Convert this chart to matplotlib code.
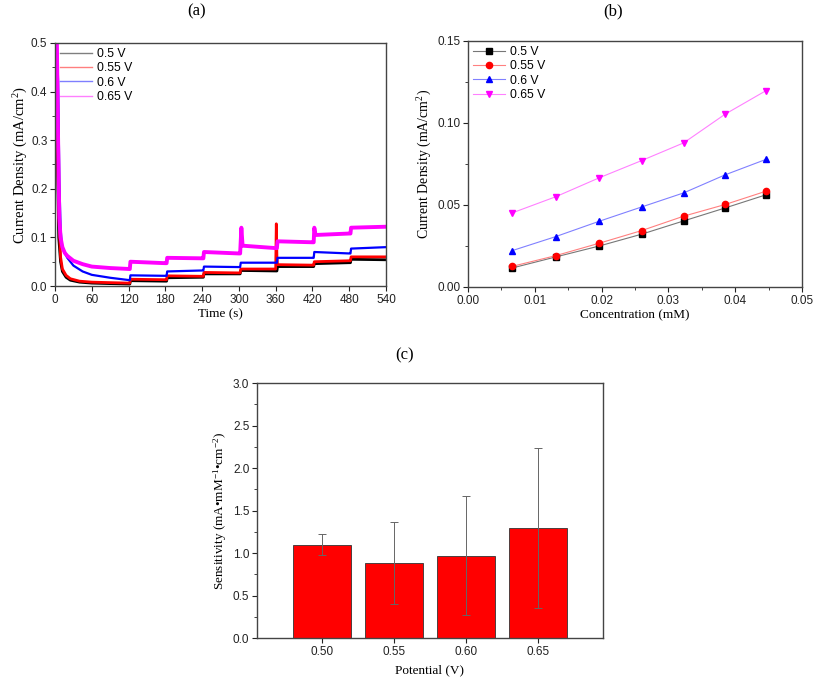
import matplotlib
matplotlib.use('Agg')
from matplotlib import pyplot as plt
from matplotlib.ticker import MultipleLocator, FormatStrFormatter

# ---- panel (a): chronoamperometry, breakpoints
t_05 = [0, 2, 4, 6, 9, 12, 18, 25, 40, 60, 90, 122,
        123, 180, 182, 183, 240, 242, 243, 300, 302, 303, 360, 362, 363, 420, 422, 423, 480, 482, 483, 540]
j_05 = [0.5, 0.5, 0.25, 0.1, 0.05, 0.03, 0.018, 0.012, 0.008, 0.006, 0.005, 0.004,
        0.011, 0.010, 0.010, 0.017, 0.018, 0.018, 0.025, 0.025, 0.025, 0.032, 0.031, 0.031, 0.040, 0.040, 0.040, 0.046, 0.048, 0.048, 0.055, 0.054]

t_055 = [0, 2, 4, 6, 9, 12, 18, 25, 40, 60, 90, 122,
         123, 180, 182, 183, 240, 242, 243, 300, 302, 303, 360, 361, 362, 363, 420, 422, 423, 480, 482, 483, 540]
j_055 = [0.5, 0.5, 0.3, 0.15, 0.06, 0.035, 0.022, 0.015, 0.010, 0.008, 0.007, 0.006,
         0.014, 0.013, 0.013, 0.021, 0.020, 0.020, 0.028, 0.027, 0.027, 0.035, 0.035, 0.128, 0.06, 0.044, 0.043, 0.043, 0.050, 0.052, 0.052, 0.060, 0.060]

t_06 = [0, 3, 5, 7, 9, 11, 15, 20, 30, 45, 60, 90, 122,
        123, 180, 182, 183, 240, 242, 243, 300, 302, 303, 360, 362, 363, 420, 422, 423, 480, 482, 483, 540]
j_06 = [0.5, 0.5, 0.42, 0.22, 0.12, 0.085, 0.07, 0.058, 0.042, 0.030, 0.023, 0.017, 0.012,
        0.022, 0.021, 0.021, 0.030, 0.032, 0.032, 0.040, 0.039, 0.039, 0.048, 0.048, 0.048, 0.058, 0.058, 0.058, 0.070, 0.067, 0.067, 0.077, 0.080]

t_065 = [0, 3, 5, 7, 9, 12, 16, 20, 30, 45, 60, 90, 122,
         123, 180, 182, 183, 240, 242, 243, 300, 302, 304, 306, 360, 362, 363, 420, 422, 423, 425, 480, 482, 483, 540]
j_065 = [0.5, 0.5, 0.3, 0.14, 0.1, 0.08, 0.068, 0.062, 0.052, 0.045, 0.040, 0.037, 0.035,
         0.050, 0.047, 0.047, 0.058, 0.057, 0.057, 0.070, 0.067, 0.067, 0.12, 0.083, 0.078, 0.078, 0.092, 0.090, 0.090, 0.12, 0.105, 0.108, 0.108, 0.120, 0.122]

# ---- panel (b): calibration
conc = [0.00664, 0.01312, 0.01966, 0.0260, 0.0323, 0.0385, 0.0446]
cd_05 = [0.0116, 0.0183, 0.0250, 0.0322, 0.0403, 0.0482, 0.0562]
cd_055 = [0.0126, 0.0191, 0.0267, 0.0344, 0.0432, 0.0503, 0.0584]
cd_06 = [0.0222, 0.0307, 0.0401, 0.0488, 0.0574, 0.0684, 0.0778]
cd_065 = [0.0452, 0.0550, 0.0666, 0.0771, 0.0879, 0.1054, 0.1197]

# ---- panel (c): sensitivity
potential = [0.50, 0.55, 0.60, 0.65]
sens = [1.10, 0.88, 0.965, 1.29]
sens_err = [0.12, 0.48, 0.70, 0.94]

labels = ['0.5 V', '0.55 V', '0.6 V', '0.65 V']

serif = 'Liberation Serif'
sans = 'Liberation Sans'
plt.rcParams['font.family'] = sans
plt.rcParams['mathtext.fontset'] = 'custom'
plt.rcParams['mathtext.rm'] = serif
plt.rcParams['mathtext.it'] = serif + ':italic'
plt.rcParams['axes.edgecolor'] = '#444444'
plt.rcParams['axes.linewidth'] = 1.0

TICK_SIZE = 8.5
LAB_SIZE = 9.5
LEG_SIZE = 8.8


def style_axes(ax):
	ax.tick_params(which='both', direction='out', top=False, right=False, labelsize=TICK_SIZE, pad=2, colors='#222222')
	ax.tick_params(which='major', length=3.5)
	ax.tick_params(which='minor', length=2)
	for lab in ax.get_xticklabels() + ax.get_yticklabels():
		lab.set_fontfamily(sans)


fig = plt.figure(figsize=(8.13, 6.82), dpi=100)

# (a)
ax1 = fig.add_axes([0.0677, 0.5806, 0.4071, 0.3564])
ax1.plot(t_05, j_05, color='black', lw=2.0, label=labels[0])
ax1.plot(t_055, j_055, color='red', lw=2.0, label=labels[1])
ax1.plot(t_06, j_06, color='blue', lw=1.6, label=labels[2])
ax1.plot(t_065, j_065, color='magenta', lw=2.8, label=labels[3])
ax1.set_xlim(0, 540)
ax1.set_ylim(0, 0.5)
ax1.xaxis.set_major_locator(MultipleLocator(60))
ax1.yaxis.set_major_locator(MultipleLocator(0.1))
ax1.yaxis.set_minor_locator(MultipleLocator(0.05))
ax1.yaxis.set_major_formatter(FormatStrFormatter('%.1f'))
ax1.set_xlabel('Time (s)', fontfamily=serif, fontsize=LAB_SIZE, labelpad=2)
ax1.set_ylabel('Current Density (mA/cm$^2$)', fontfamily=serif, fontsize=10.5, labelpad=1)
leg = ax1.legend(loc='upper left', frameon=False, fontsize=LEG_SIZE, handlelength=2.6, labelspacing=0.2,
                 borderaxespad=0.1, handletextpad=0.4, borderpad=0.3)
for h in leg.get_lines():
	h.set_linewidth(1.0)
	h.set_alpha(0.5)
style_axes(ax1)

# (b)
ax2 = fig.add_axes([0.5756, 0.5792, 0.4109, 0.3607])
ax2.plot(conc, cd_05, color='#777777', lw=0.8, marker='s', mfc='black', mec='black', ms=4, label=labels[0])
ax2.plot(conc, cd_055, color='#ff8080', lw=0.8, marker='o', mfc='red', mec='red', ms=4.5, label=labels[1])
ax2.plot(conc, cd_06, color='#8080ff', lw=0.8, marker='^', mfc='blue', mec='blue', ms=4.5, label=labels[2])
ax2.plot(conc, cd_065, color='#ff80ff', lw=0.8, marker='v', mfc='magenta', mec='magenta', ms=4.5, label=labels[3])
ax2.set_xlim(0, 0.05)
ax2.set_ylim(0, 0.15)
ax2.xaxis.set_major_locator(MultipleLocator(0.01))
ax2.xaxis.set_minor_locator(MultipleLocator(0.005))
ax2.yaxis.set_major_locator(MultipleLocator(0.05))
ax2.yaxis.set_minor_locator(MultipleLocator(0.025))
ax2.xaxis.set_major_formatter(FormatStrFormatter('%.2f'))
ax2.yaxis.set_major_formatter(FormatStrFormatter('%.2f'))
ax2.set_xlabel('Concentration (mM)', fontfamily=serif, fontsize=LAB_SIZE, labelpad=2)
ax2.set_ylabel('Current Density (mA/cm$^2$)', fontfamily=serif, fontsize=10, labelpad=2)
ax2.legend(loc='upper left', frameon=False, fontsize=LEG_SIZE, handlelength=2.6, labelspacing=0.2,
           borderaxespad=0.1, handletextpad=0.4, borderpad=0.3)
style_axes(ax2)

# (c)
ax3 = fig.add_axes([0.3161, 0.0645, 0.4256, 0.3739])
ax3.bar(potential, sens, width=0.04, color='red', edgecolor='#333333', linewidth=0.6,
        yerr=sens_err, error_kw=dict(ecolor='#666666', elinewidth=0.7, capsize=3, capthick=0.7))
ax3.set_xlim(0.455, 0.695)
ax3.set_ylim(0, 3.0)
ax3.set_xticks(potential)
ax3.xaxis.set_major_formatter(FormatStrFormatter('%.2f'))
ax3.yaxis.set_major_locator(MultipleLocator(0.5))
ax3.yaxis.set_minor_locator(MultipleLocator(0.25))
ax3.yaxis.set_major_formatter(FormatStrFormatter('%.1f'))
ax3.set_xlabel('Potential (V)', fontfamily=serif, fontsize=LAB_SIZE, labelpad=5)
ax3.set_ylabel('Sensitivity (mA\u2022mM$^{-1}$\u2022cm$^{-2}$)', fontfamily=serif, fontsize=LAB_SIZE, labelpad=3)
style_axes(ax3)

fig.text(197 / 813, 1 - 11 / 682, '(a)', ha='center', va='center', fontfamily=serif, fontsize=12)
fig.text(613 / 813, 1 - 11 / 682, '(b)', ha='center', va='center', fontfamily=serif, fontsize=12)
fig.text(405 / 813, 1 - 355 / 682, '(c)', ha='center', va='center', fontfamily=serif, fontsize=12)

fig.savefig('out.png', dpi=100)
